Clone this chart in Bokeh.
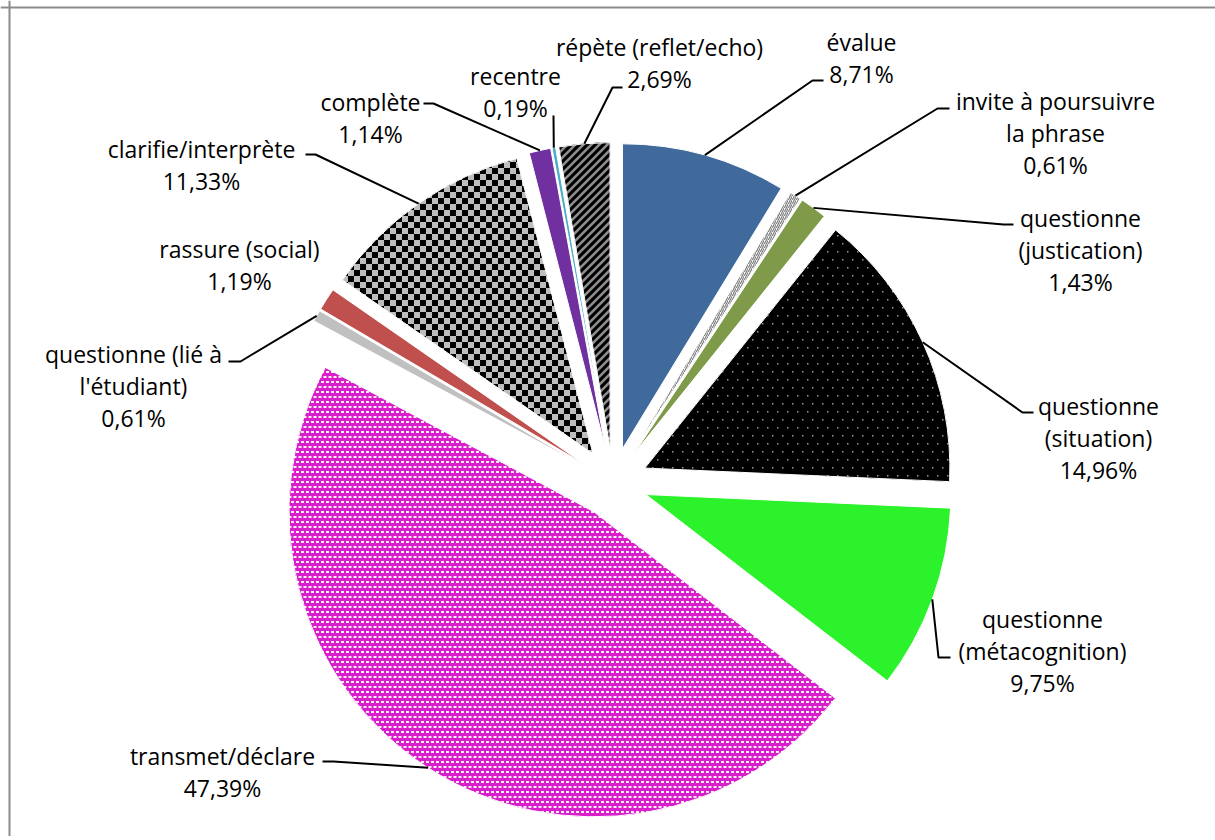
import math
from bokeh.plotting import figure
from bokeh.models import ColumnDataSource, Range1d, Span, CanvasTexture
from bokeh.core.properties import value
from bokeh.embed import file_html
from bokeh.resources import INLINE

# ---------------- data ----------------
categories = [
    "évalue",
    "invite à poursuivre\nla phrase",
    "questionne\n(justication)",
    "questionne\n(situation)",
    "questionne\n(métacognition)",
    "transmet/déclare",
    "questionne (lié à\nl'étudiant)",
    "rassure (social)",
    "clarifie/interprète",
    "complète",
    "recentre",
    "répète (reflet/echo)",
]
values = [8.71, 0.61, 1.43, 14.96, 9.75, 47.39, 0.61, 1.19, 11.33, 1.14, 0.19, 2.69]

# ---------------- styles ----------------
fill_colors = ["#406A9B", "#FFFFFF", "#7F9B4A", "#000000", "#2BF22A", "#D81FCB",
               "#C0C0C0", "#C0504D", "#BDBDBD", "#7030A0", "#4BACC6", "#000000"]
hatch_patterns = [" ", "/", " ", "blackdots", " ", "magdots", " ", " ", "checker", " ", " ", "stripes"]
hatch_colors = ["#000000", "#7F7F7F", "#000000", "#000000", "#000000", "#FFFFFF",
                "#000000", "#000000", "#000000", "#000000", "#000000", "#000000"]
hatch_scales = [8, 4, 8, 10, 8, 10, 8, 8, 12, 8, 8, 8]
hatch_weights = [1, 1.2, 1, 1, 1, 1, 1, 1, 1, 1, 1, 1]

# ---------------- layout (page pixels) ----------------
W, H = 1215, 836
CX, CY = 612.5, 482.0
R = 305
EXPLODE = 35
LINE_GAP = 32
FONT = "Open Sans"
FONT_SIZE = "23px"
BORDER_X, BORDER_Y = 9, 7
label_anchor = [(861, 41), (1055, 100), (1080, 217), (1098, 405), (1042, 618), (222, 755),
                (133, 353), (239, 248), (201, 148), (370, 101), (515, 75), (659, 46)]
leader_elbow = [(812, 80), (937, 108), (1003, 224), (1022, 412), (938, 657), (333, 761),
                (240, 361), None, (315, 154), (433, 103), (553, 116), (612, 87)]
leader_end = [(823, 80), (949, 108), (1013, 224), (1033, 412), (950, 657), (322, 761),
              (228, 361), None, (305, 154), (423, 103), (553, 115), (622, 87)]

# ---------------- geometry ----------------
total = sum(values)
xs, ys, starts, ends = [], [], [], []
arc_pts = []
cum = 0.0
for v in values:
    a0 = cum / total * 2 * math.pi
    cum += v
    a1 = cum / total * 2 * math.pi
    mid = (a0 + a1) / 2
    ax = CX + EXPLODE * math.sin(mid)
    ay = CY - EXPLODE * math.cos(mid)
    xs.append(ax)
    ys.append(-ay)
    starts.append(math.pi / 2 - a1)
    ends.append(math.pi / 2 - a0)
    arc_pts.append((ax + R * math.sin(mid), ay - R * math.cos(mid)))

src = ColumnDataSource(dict(x=xs, y=ys, start=starts, end=ends, fill=fill_colors,
                            hp=hatch_patterns, hc=hatch_colors, hs=hatch_scales, hw=hatch_weights))

p = figure(width=W, height=H, output_backend="svg", toolbar_location=None,
           x_range=Range1d(0, W), y_range=Range1d(-H, 0),
           min_border=0, match_aspect=False)
p.axis.visible = False
p.xgrid.visible = False
p.ygrid.visible = False
p.outline_line_color = None
p.background_fill_color = "white"
p.border_fill_color = "white"

checker = CanvasTexture(code="""
const c = ctx.canvas;
c.width = 12; c.height = 12;
ctx.fillStyle = "#BDBDBD";
ctx.fillRect(0, 0, 12, 12);
ctx.fillStyle = "#000000";
ctx.fillRect(0, 0, 6, 6);
ctx.fillRect(6, 6, 6, 6);
""")

magdots = CanvasTexture(code="""
const c = ctx.canvas;
c.width = 10; c.height = 10;
ctx.fillStyle = "#D81FCB";
ctx.fillRect(0, 0, 10, 10);
ctx.fillStyle = "rgba(255,255,255,0.92)";
ctx.fillRect(1, 1, 3, 2);
ctx.fillRect(6, 1, 3, 2);
ctx.fillRect(3.5, 6, 3, 2);
ctx.fillRect(8.5, 6, 3, 2);
ctx.fillRect(-1.5, 6, 3, 2);
""")

blackdots = CanvasTexture(code="""
const c = ctx.canvas;
c.width = 10; c.height = 16;
ctx.fillStyle = "#000000";
ctx.fillRect(0, 0, 10, 16);
ctx.fillStyle = "#9A9A9A";
ctx.fillRect(2, 3, 1.5, 1.5);
ctx.fillRect(7, 11, 1.5, 1.5);
""")

stripes = CanvasTexture(code="""
const c = ctx.canvas;
c.width = 8; c.height = 8;
ctx.fillStyle = "#000000";
ctx.fillRect(0, 0, 8, 8);
ctx.strokeStyle = "#8E8E8E";
ctx.lineWidth = 2.6;
ctx.beginPath();
ctx.moveTo(-2, 10); ctx.lineTo(10, -2);
ctx.moveTo(-6, 6); ctx.lineTo(6, -6);
ctx.moveTo(2, 14); ctx.lineTo(14, 2);
ctx.stroke();
""")

p.wedge(x="x", y="y", radius=R, start_angle="start", end_angle="end", source=src,
        fill_color="fill", line_color="white", line_width=1,
        hatch_pattern="hp", hatch_color="hc", hatch_scale="hs", hatch_weight="hw",
        hatch_extra={"checker": checker, "magdots": magdots,
                     "blackdots": blackdots, "stripes": stripes})

# leader lines
lx, ly = [], []
for i in range(len(values)):
    if leader_elbow[i] is None:
        continue
    pts = [arc_pts[i], leader_elbow[i], leader_end[i]]
    lx.append([q[0] for q in pts])
    ly.append([-q[1] for q in pts])
p.multi_line(xs=lx, ys=ly, line_color="black", line_width=2)

# labels
tx, ty, tt = [], [], []
for i, (cat, v) in enumerate(zip(categories, values)):
    lines = cat.split("\n") + [f"{v:.2f}".replace(".", ",") + "%"]
    ax, ay = label_anchor[i]
    for k, line in enumerate(lines):
        tx.append(ax)
        ty.append(-(ay + k * LINE_GAP))
        tt.append(line)
p.text(x=tx, y=ty, text=tt, text_align="center", text_baseline="middle",
       text_font=value(FONT), text_font_size=FONT_SIZE, text_color="black")

# chart-area border (top and left visible in the reference)
p.add_layout(Span(location=-BORDER_Y, dimension="width", line_color="#8C8C8C", line_width=2))
p.add_layout(Span(location=BORDER_X, dimension="height", line_color="#8C8C8C", line_width=2))

open("out.html", "w").write(file_html(p, INLINE))
